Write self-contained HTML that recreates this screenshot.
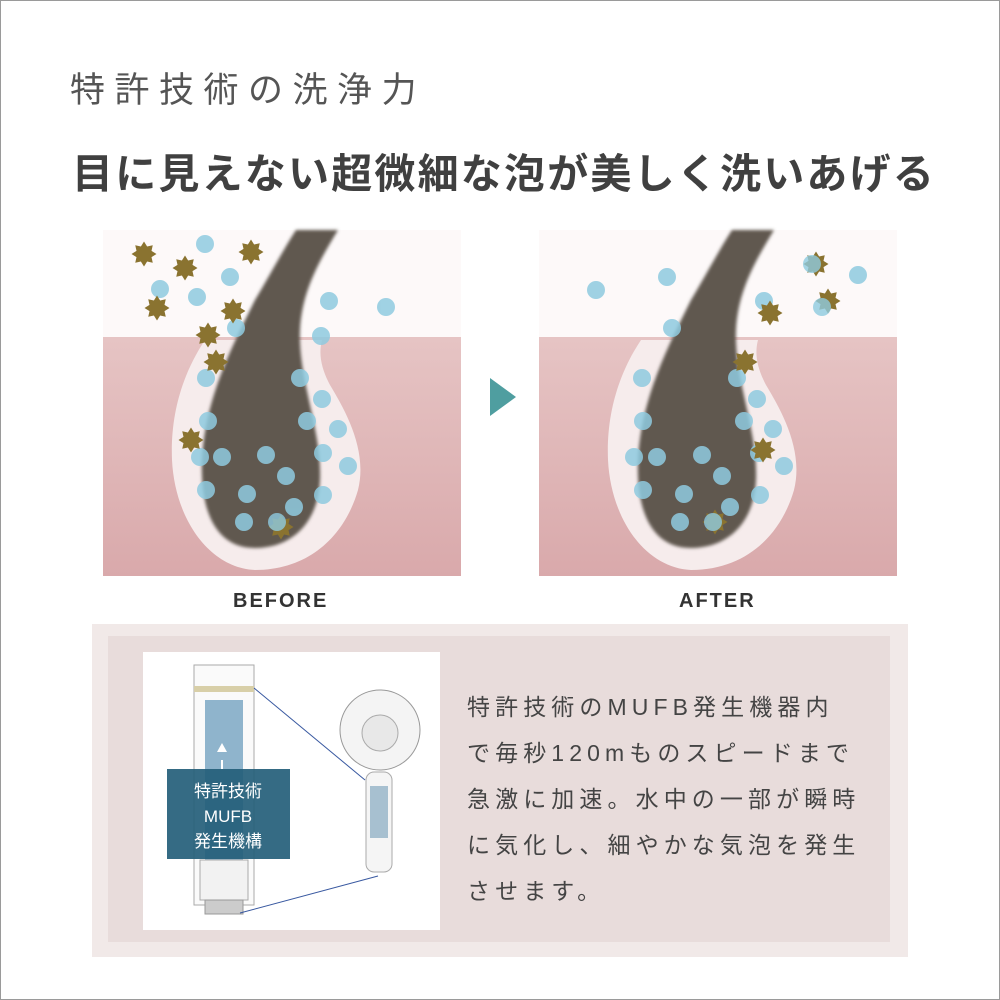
<!DOCTYPE html>
<html><head><meta charset="utf-8"><style>
body{margin:0;width:1000px;height:1000px;background:#fff;position:relative;overflow:hidden;font-family:"Liberation Sans","Noto Sans CJK JP",sans-serif;}
.frame{position:absolute;left:0;top:0;width:998px;height:998px;border:1px solid #9a9a9a;}
.t1{position:absolute;left:70px;top:62px;font-size:35px;color:#555;letter-spacing:9.5px;}
.t2{position:absolute;left:72px;top:140px;font-size:41px;font-weight:bold;color:#404040;letter-spacing:2.2px;white-space:nowrap;}
.lbl{position:absolute;top:590px;font-size:20px;color:#333;letter-spacing:2px;font-weight:bold;}
.outer{position:absolute;left:92px;top:624px;width:816px;height:333px;background:#f1e9e8;}
.inner{position:absolute;left:108px;top:636px;width:782px;height:306px;background:#e8dcdb;}
.wbox{position:absolute;left:143px;top:652px;width:297px;height:278px;background:#fff;}
.txt{position:absolute;left:467px;top:684px;font-size:23px;line-height:46px;color:#444;letter-spacing:5.1px;white-space:nowrap;}
</style></head><body>
<div class="frame"></div>
<div class="t1">特許技術の洗浄力</div>
<div class="t2">目に見えない超微細な泡が美しく洗いあげる</div>
<svg width="1000" height="620" style="position:absolute;left:0;top:0">
<defs>
<linearGradient id="sk" x1="0" y1="0" x2="0" y2="1"><stop offset="0" stop-color="#e6c4c4"/><stop offset="1" stop-color="#d9a9ab"/></linearGradient>
<filter id="bl"><feGaussianBlur stdDeviation="1.5"/></filter>
<g id="dirt"><polygon transform="scale(1.25)" points="0,-10 2.5,-6 7,-7 6,-2.5 10,0 6,2.5 7,7 2.5,6 0,10 -2.5,6 -7,7 -6,2.5 -10,0 -6,-2.5 -7,-7 -2.5,-6" fill="#8a7330"/></g>
<g id="panel">
<rect x="103" y="230" width="358" height="107" fill="#fdf9f9"/>
<rect x="103" y="337" width="358" height="239" fill="url(#sk)"/>
<path d="M205,340 C185,370 170,410 172,460 C175,520 210,568 255,570 C310,570 345,535 358,490 C368,450 345,410 330,385 C322,370 318,355 322,340 Z" fill="#f6ecec"/>
<path d="M296,230 L338,230 C320,260 302,290 300,330 C298,380 322,430 320,480 C318,525 290,548 255,548 C215,548 200,510 202,460 C205,400 230,350 255,300 C270,275 283,250 296,230 Z" fill="#615850" filter="url(#bl)"/>
</g>
</defs>
<use href="#panel"/>
<use href="#panel" transform="translate(436,0)"/>
<g fill="#8fcbe0" opacity="0.85">
<circle cx="205" cy="244" r="9"/><circle cx="230" cy="277" r="9"/><circle cx="160" cy="289" r="9"/><circle cx="197" cy="297" r="9"/><circle cx="236" cy="328" r="9"/><circle cx="329" cy="301" r="9"/><circle cx="386" cy="307" r="9"/><circle cx="321" cy="336" r="9"/><circle cx="206" cy="378" r="9"/><circle cx="300" cy="378" r="9"/><circle cx="322" cy="399" r="9"/><circle cx="307" cy="421" r="9"/><circle cx="338" cy="429" r="9"/><circle cx="208" cy="421" r="9"/><circle cx="200" cy="457" r="9"/><circle cx="222" cy="457" r="9"/><circle cx="266" cy="455" r="9"/><circle cx="286" cy="476" r="9"/><circle cx="348" cy="466" r="9"/><circle cx="323" cy="453" r="9"/><circle cx="206" cy="490" r="9"/><circle cx="247" cy="494" r="9"/><circle cx="323" cy="495" r="9"/><circle cx="294" cy="507" r="9"/><circle cx="244" cy="522" r="9"/>
<circle cx="596" cy="290" r="9"/><circle cx="667" cy="277" r="9"/><circle cx="764" cy="301" r="9"/><circle cx="672" cy="328" r="9"/><circle cx="858" cy="275" r="9"/><circle cx="642" cy="378" r="9"/><circle cx="737" cy="378" r="9"/><circle cx="757" cy="399" r="9"/><circle cx="744" cy="421" r="9"/><circle cx="773" cy="429" r="9"/><circle cx="643" cy="421" r="9"/><circle cx="634" cy="457" r="9"/><circle cx="657" cy="457" r="9"/><circle cx="702" cy="455" r="9"/><circle cx="722" cy="476" r="9"/><circle cx="784" cy="466" r="9"/><circle cx="759" cy="453" r="9"/><circle cx="643" cy="490" r="9"/><circle cx="684" cy="494" r="9"/><circle cx="760" cy="495" r="9"/><circle cx="730" cy="507" r="9"/><circle cx="680" cy="522" r="9"/>
</g>
<use href="#dirt" x="144" y="254"/><use href="#dirt" x="185" y="268"/><use href="#dirt" x="251" y="252"/><use href="#dirt" x="157" y="308"/><use href="#dirt" x="233" y="311"/><use href="#dirt" x="208" y="335"/><use href="#dirt" x="216" y="362"/><use href="#dirt" x="191" y="440"/><use href="#dirt" x="281" y="527"/>
<use href="#dirt" x="816" y="264"/><use href="#dirt" x="770" y="313"/><use href="#dirt" x="828" y="301"/><use href="#dirt" x="745" y="362"/><use href="#dirt" x="763" y="450"/><use href="#dirt" x="715" y="522"/>
<g fill="#8fcbe0" opacity="0.8"><circle cx="277" cy="522" r="9"/><circle cx="713" cy="522" r="9"/><circle cx="822" cy="307" r="9"/><circle cx="812" cy="264" r="9"/></g>
<polygon points="490,378 516,397 490,416" fill="#4f9ea0"/>
</svg>
<div class="lbl" style="left:233px">BEFORE</div>
<div class="lbl" style="left:679px">AFTER</div>
<div class="outer"></div><div class="inner"></div>
<div class="wbox"></div>
<svg width="1000" height="1000" style="position:absolute;left:0;top:0">
<rect x="194" y="665" width="60" height="240" fill="#fafafa" stroke="#aaa"/>
<rect x="194" y="686" width="60" height="6" fill="#d8cfa8"/>
<rect x="205" y="700" width="38" height="160" fill="#8fb4cc"/>
<rect x="200" y="860" width="48" height="40" fill="#f2f2f2" stroke="#aaa"/>
<rect x="205" y="900" width="38" height="14" fill="#ccc" stroke="#999"/>
<line x1="254" y1="688" x2="365" y2="780" stroke="#3858a0"/>
<line x1="240" y1="913" x2="378" y2="876" stroke="#3858a0"/>
<circle cx="380" cy="730" r="40" fill="#f4f4f4" stroke="#999"/>
<circle cx="380" cy="733" r="18" fill="#e8e8e8" stroke="#aaa"/>
<rect x="366" y="772" width="26" height="100" rx="8" fill="#f5f5f5" stroke="#aaa"/>
<rect x="370" y="786" width="18" height="52" fill="#a7c0d0"/>
<rect x="167" y="769" width="123" height="90" fill="#245e7a" opacity="0.92"/>
<line x1="222" y1="760" x2="222" y2="769" stroke="#fff" stroke-width="2"/>
<polygon points="217,752 222,743 227,752" fill="#fff"/>
<text x="228" y="797" fill="#fff" font-size="17" text-anchor="middle" font-family="Liberation Sans, Noto Sans CJK JP, sans-serif">特許技術</text>
<text x="228" y="822" fill="#fff" font-size="17" text-anchor="middle" font-family="Liberation Sans, Noto Sans CJK JP, sans-serif">MUFB</text>
<text x="228" y="847" fill="#fff" font-size="17" text-anchor="middle" font-family="Liberation Sans, Noto Sans CJK JP, sans-serif">発生機構</text>
</svg>
<div class="txt">特許技術のMUFB発生機器内<br>で毎秒120mものスピードまで<br>急激に加速。水中の一部が瞬時<br>に気化し、細やかな気泡を発生<br>させます。</div>
</body></html>
